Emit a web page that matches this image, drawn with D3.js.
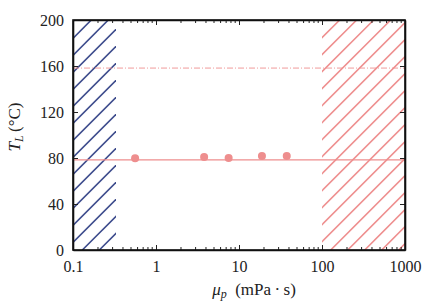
<!DOCTYPE html>
<html><head><meta charset="utf-8">
<script src="https://cdn.jsdelivr.net/npm/d3@7"></script>
<style>body{margin:0;background:#fff}svg{display:block}text{font-family:"Liberation Serif","DejaVu Serif",serif;fill:#222}</style>
</head><body>
<script>
const xTicks=[0.1,1,10,100,1000];
const yTicks=[0,40,80,120,160,200];
const pointsMu=[0.56,3.8,7.5,18.9,37.6];
const pointsT=[79.7,80.9,80.0,81.7,81.7];
const solidLineT=[78.3];
const dashLineT=[158.2];
const blueRegion=[0.1,0.33];
const redRegion=[100,1000];

const W=436,H=305,m={l:73,r:31,t:20,b:55};
const svg=d3.select("body").append("svg").attr("width",W).attr("height",H);
const x=d3.scaleLog().domain([0.1,1000]).range([m.l,W-m.r]);
const y=d3.scaleLinear().domain([0,200]).range([H-m.b,m.t]);
const red="#ee8e8e",blue="#3c4b8c";

function hatch(id,x0,x1,color,phase){
  svg.append("clipPath").attr("id",id).append("rect")
   .attr("x",x(x0)).attr("y",y(200)).attr("width",x(x1)-x(x0)).attr("height",y(0)-y(200));
  const g=svg.append("g").attr("clip-path",`url(#${id})`);
  const sp=17;
  const xa=x(x0),xb=x(x1),ya=y(200),yb=y(0);
  for(let c=xa+ya-400+phase;c<xb+yb+sp;c+=sp){
    g.append("line").attr("x1",c-ya).attr("y1",ya).attr("x2",c-yb).attr("y2",yb)
     .attr("stroke",color).attr("stroke-width",1.6);
  }
}
hatch("cb",blueRegion[0],blueRegion[1],blue,(111.3-(73+20-400))%17);
hatch("cr",redRegion[0],redRegion[1],red,(359.7-(322+20-400))%17);

svg.selectAll(".sl").data(solidLineT).enter().append("line")
 .attr("x1",x(0.1)).attr("x2",x(1000)).attr("y1",d=>y(d)).attr("y2",d=>y(d))
 .attr("stroke",red).attr("stroke-width",1.2);
svg.selectAll(".dl").data(dashLineT).enter().append("line")
 .attr("x1",x(0.1)).attr("x2",x(1000)).attr("y1",d=>y(d)).attr("y2",d=>y(d))
 .attr("stroke",red).attr("stroke-width",0.9).attr("stroke-dasharray","6,2,1,2");
svg.selectAll(".pt").data(pointsMu).enter().append("circle")
 .attr("cx",d=>x(d)).attr("cy",(d,i)=>y(pointsT[i])).attr("r",4).attr("fill",red);

// axes
const minor=[];
for(let e=-1;e<3;e++)for(let k=2;k<10;k++)minor.push(k*Math.pow(10,e));
const gx=svg.append("g").attr("transform",`translate(0,${y(0)})`)
 .call(d3.axisBottom(x).tickValues(xTicks).tickFormat(d3.format("~g")).tickSizeInner(-5).tickSizeOuter(0));
const gxt=svg.append("g").attr("transform",`translate(0,${y(200)})`)
 .call(d3.axisTop(x).tickValues(xTicks).tickFormat("").tickSizeInner(-5).tickSizeOuter(0));
[[y(0),-1],[y(200),1]].forEach(([yy,s])=>{
  svg.append("g").selectAll("line").data(minor).enter().append("line")
   .attr("x1",d=>x(d)).attr("x2",d=>x(d)).attr("y1",yy).attr("y2",yy+s*3)
   .attr("stroke","#222").attr("stroke-width",1);
});
const gy=svg.append("g").attr("transform",`translate(${x(0.1)},0)`)
 .call(d3.axisLeft(y).tickValues(yTicks).tickSizeInner(-5).tickSizeOuter(0));
const gyr=svg.append("g").attr("transform",`translate(${x(1000)},0)`)
 .call(d3.axisRight(y).tickValues(yTicks).tickFormat("").tickSizeInner(-5).tickSizeOuter(0));
[gx,gxt,gy,gyr].forEach(g=>{g.select(".domain").attr("stroke","#111").attr("stroke-width",1.6);
 g.selectAll(".tick line").attr("stroke","#222");
 g.selectAll("text").attr("font-family","Liberation Serif, serif").attr("font-size",16).attr("fill","#222");});
gx.selectAll("text").attr("dy","0").attr("y",22);
gy.selectAll("text").attr("x",-9).attr("dy","0.35em");
svg.append("rect").attr("x",x(0.1)).attr("y",y(200)).attr("width",x(1000)-x(0.1)).attr("height",y(0)-y(200))
 .attr("fill","none").attr("stroke","#111").attr("stroke-width",1.6);

// labels
const yl=svg.append("text").attr("transform",`translate(20,127) rotate(-90)`).attr("text-anchor","middle").attr("font-size",17);
yl.append("tspan").attr("font-style","italic").text("T");
yl.append("tspan").attr("font-style","italic").attr("font-size",12).attr("dy",3).text("L");
yl.append("tspan").attr("dy",-3).text("\u2009(°C)");
const xl=svg.append("text").attr("x",254).attr("y",295).attr("text-anchor","middle").attr("font-size",17);
xl.append("tspan").attr("font-style","italic").text("μ");
xl.append("tspan").attr("font-style","italic").attr("font-size",12).attr("dy",3).text("p");
xl.append("tspan").attr("dy",-3).text("\u2002(mPa\u2009·\u2009s)");
</script>
</body></html>
